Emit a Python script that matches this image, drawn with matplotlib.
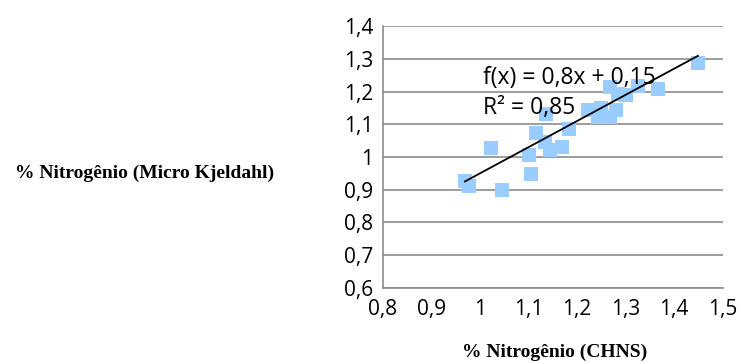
import numpy as np
import matplotlib
matplotlib.use("Agg")
import matplotlib.pyplot as plt

# % N by CHNS (x) vs Micro Kjeldahl (y)
n_chns = [0.969, 0.978, 1.022, 1.045, 1.102, 1.105, 1.115, 1.133, 1.135, 1.145,
          1.170, 1.183, 1.222, 1.243, 1.267, 1.281, 1.267, 1.284, 1.301, 1.325,
          1.367, 1.449, 1.250]
n_kjeldahl = [0.927, 0.911, 1.028, 0.899, 1.006, 0.947, 1.072, 1.047, 1.130, 1.021,
              1.031, 1.087, 1.145, 1.123, 1.123, 1.145, 1.215, 1.194, 1.189, 1.218,
              1.208, 1.286, 1.150]
trend_slope = 0.8
trend_icpt = 0.15
x_ticks = [0.8, 0.9, 1.0, 1.1, 1.2, 1.3, 1.4, 1.5]
y_ticks = [0.6, 0.7, 0.8, 0.9, 1.0, 1.1, 1.2, 1.3, 1.4]

def fmt(v):
    s = ("%.1f" % v).replace(".", ",")
    return "1" if s == "1,0" else s

fig = plt.figure(figsize=(7.42, 3.63), dpi=100)
ax = fig.add_axes([0.516, 0.207, 0.458, 0.721])

ax.scatter(n_chns, n_kjeldahl, marker="s", s=90, color="#99ccff", zorder=3,
           linewidths=0)
xs = np.array([min(n_chns), max(n_chns)])
ax.plot(xs, trend_slope * xs + trend_icpt, color="black", lw=1.3, zorder=4)

ax.set_xlim(0.8, 1.5)
ax.set_ylim(0.6, 1.4)
ax.set_xticks(x_ticks)
ax.set_yticks(y_ticks)
ax.set_xticklabels([fmt(v) for v in x_ticks])
ax.set_yticklabels([fmt(v) for v in y_ticks])
ax.yaxis.grid(True, color="#8c8c8c", lw=1.2)
ax.set_axisbelow(True)
for sp in ["top", "right"]:
    ax.spines[sp].set_visible(False)
for sp in ["left", "bottom"]:
    ax.spines[sp].set_color("#8c8c8c")
    ax.spines[sp].set_linewidth(1.2)
ax.tick_params(labelcolor="black", labelsize=15, length=0, pad=7)
ax.tick_params(axis="x", pad=8)
for lab in ax.get_xticklabels() + ax.get_yticklabels():
    lab.set_family("Open Sans")

ax.text(1.006, 1.241, "f(x) = 0,8x + 0,15", fontsize=16.5, family="Open Sans",
        va="center", ha="left", zorder=5)
ax.text(1.006, 1.150, "R² = 0,85", fontsize=16.5, family="Open Sans",
        va="center", ha="left", zorder=5)

fig.text(0.02, 0.523, "% Nitrogênio (Micro Kjeldahl)", fontsize=14,
         family="Liberation Serif", weight="bold", va="center", ha="left")
fig.text(0.748, 0.03, "% Nitrogênio (CHNS)", fontsize=14,
         family="Liberation Serif", weight="bold", va="center", ha="center")

fig.savefig("out.png", dpi=100)
